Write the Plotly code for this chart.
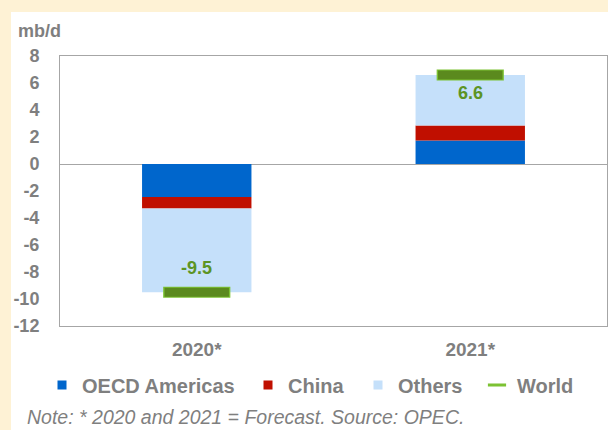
import plotly.graph_objects as go

# ---- data (mb/d, year-on-year change) ----
years = ["2020*", "2021*"]
oecd_americas = [-2.45, 1.75]
china = [-0.85, 1.1]
others = [-6.2, 3.75]
world = [-9.5, 6.6]
series_names = ["OECD Americas", "China", "Others", "World"]
y_ticks = [-12, -10, -8, -6, -4, -2, 0, 2, 4, 6, 8]
y_tick_text = [str(v) for v in y_ticks]  # plain hyphen minus signs

# ---- styling ----
W, H = 608, 430
ML, MR, MT, MB = 60, 1, 56, 104
PW, PH = W - ML - MR, H - MT - MB
FONT = "Arial, Liberation Sans, sans-serif"
GREY = "#7F7F7F"
AXIS_GREY = "#A6A6A6"
CREAM = "#FEF2D5"
COLORS = {"OECD Americas": "#0066CC", "China": "#C00F00",
          "Others": "#C5E0FA", "World": "#7CC233"}
WORLD_FILL = "#5B8A1E"
LABEL_GREEN = "#5C9424"


def px_x(px):
    return (px - ML) / PW


def px_y(py):
    return (H - MB - py) / PH


fig = go.Figure()

# stacked component bars
for name, vals in zip(series_names[:3], [oecd_americas, china, others]):
    fig.add_trace(go.Bar(
        x=years, y=vals, name=name, marker=dict(color=COLORS[name], line=dict(width=0)),
        showlegend=False, legendgroup=name,
    ))

# world total shown as a flat green tab (outer rim + inner fill)
fig.add_trace(go.Scatter(
    x=years, y=world, mode="markers", showlegend=False, legendgroup="World",
    marker=dict(symbol="line-ew", size=48, line=dict(width=11, color=COLORS["World"])),
))
fig.add_trace(go.Scatter(
    x=years, y=world, mode="markers", showlegend=False, legendgroup="World",
    marker=dict(symbol="line-ew", size=46, line=dict(width=9, color=WORLD_FILL)),
))

# legend entries
legend_widths = {"OECD Americas": 161, "China": 65, "Others": 74, "World": 60}
for name in series_names[:3]:
    fig.add_trace(go.Scatter(
        x=[None], y=[None], mode="markers", name=name, legendgroup=name,
        legendwidth=legend_widths[name],
        marker=dict(symbol="square", size=9, color=COLORS[name]),
    ))
fig.add_trace(go.Scatter(
    x=[None], y=[None], mode="markers", name="World", legendgroup="World",
    legendwidth=legend_widths["World"],
    marker=dict(symbol="line-ew", size=13, line=dict(width=3, color=COLORS["World"])),
))

# value labels for the world totals
shifts = [24, -18]
for yr, v, s in zip(years, world, shifts):
    fig.add_annotation(
        x=yr, y=v, yshift=s, text=f"{v:.1f}", showarrow=False,
        font=dict(family=FONT, size=18, color=LABEL_GREEN, weight="bold"),
    )

# unit label
fig.add_annotation(
    xref="paper", yref="paper", x=px_x(16), y=px_y(31), xanchor="left", yanchor="middle",
    text="mb/d", showarrow=False, font=dict(family=FONT, size=18, color=GREY, weight="bold"),
)

# source note
fig.add_annotation(
    xref="paper", yref="paper", x=px_x(25), y=px_y(417), xanchor="left", yanchor="middle",
    text="Note: * 2020 and 2021 = Forecast. Source: OPEC.", showarrow=False,
    font=dict(family=FONT, size=19.5, color=GREY, style="italic"),
)

# white panel on the cream page
fig.add_shape(
    type="rect", xref="paper", yref="paper", layer="below",
    x0=px_x(11), x1=px_x(W + 2), y0=px_y(H + 2), y1=px_y(12),
    fillcolor="white", line=dict(width=0),
)

fig.update_layout(
    width=W, height=H,
    margin=dict(l=ML, r=MR, t=MT, b=MB, pad=0),
    paper_bgcolor=CREAM, plot_bgcolor="white",
    barmode="relative", bargap=0.6,
    font=dict(family=FONT, color=GREY),
    legend=dict(
        orientation="h", x=px_x(42), xanchor="left", y=px_y(385), yanchor="middle",
        font=dict(family=FONT, size=20, color=GREY, weight="bold"),
        itemwidth=30, bgcolor="rgba(0,0,0,0)", traceorder="normal",
    ),
    xaxis=dict(
        type="category", showgrid=False, showline=True, mirror=True,
        linecolor=AXIS_GREY, linewidth=1, ticks="",
        tickfont=dict(family=FONT, size=19, color=GREY, weight="bold"),
        ticklabelstandoff=6,
    ),
    yaxis=dict(
        range=[-12, 8], tickvals=y_ticks, ticktext=y_tick_text, showgrid=False,
        showline=True, mirror=True, linecolor=AXIS_GREY, linewidth=1,
        zeroline=True, zerolinecolor=AXIS_GREY, zerolinewidth=1, ticks="",
        tickfont=dict(family=FONT, size=18, color=GREY, weight="bold"),
        ticklabelstandoff=16,
    ),
)

fig.write_html("out.html")
